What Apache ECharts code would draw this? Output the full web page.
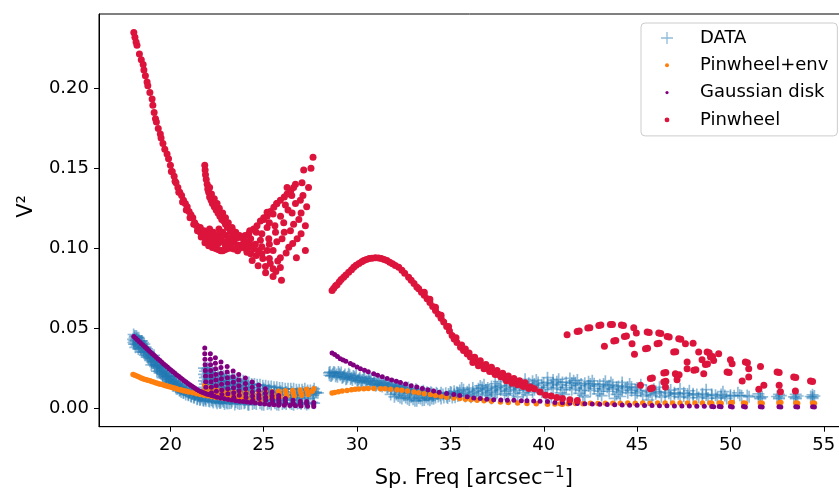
<!DOCTYPE html>
<html>
<head>
<meta charset="utf-8">
<script src="https://cdn.jsdelivr.net/npm/echarts@6/dist/echarts.min.js"></script>
<style>html,body{margin:0;padding:0;background:#fff}#c{width:839px;height:488px}</style>
</head>
<body>
<div id="c"></div>
<script>
// ---- tick labels ----
const xTicks = [20, 25, 30, 35, 40, 45, 50, 55];
const yTicks = [0, 0.05, 0.10, 0.15, 0.20];
const seriesNames = ['DATA', 'Pinwheel+env', 'Gaussian disk', 'Pinwheel'];

// ---- DATA (blue +) ----
const dataBand1 = [[18.0,0.043],[18.05,0.040],[18.1,0.045],[18.15,0.042],[18.2,0.039],[18.3,0.044],[18.35,0.041],[18.4,0.037],[18.5,0.039],[18.55,0.035],[18.6,0.040],[18.7,0.034],[18.75,0.037],[18.85,0.031],[18.9,0.034],[19.0,0.029],[19.05,0.032],[19.15,0.027],[19.2,0.030],[19.3,0.025],[19.35,0.028],[19.45,0.024],[19.5,0.026],[19.6,0.021],[19.7,0.024],[19.8,0.020],[19.85,0.022],[19.95,0.018],[20.05,0.020],[20.15,0.016],[20.25,0.018],[20.35,0.014],[20.45,0.016],[20.55,0.013],[20.65,0.014],[20.8,0.011],[20.9,0.013],[21.0,0.0095],[21.15,0.011],[21.3,0.008],[21.4,0.0095],[21.55,0.007],[21.7,0.008],[21.85,0.006],[22.0,0.0065],[22.2,0.005],[22.4,0.0055],[22.6,0.004],[22.8,0.0045],[23.0,0.0035],[23.3,0.004],[23.6,0.003],[24.0,0.0035],[24.4,0.0025],[24.8,0.003],[25.2,0.0025],[25.6,0.003],[26.0,0.0025],[26.4,0.003],[26.8,0.0028],[27.2,0.003]];
const dataBand1b = [[18.02,0.041],[18.08,0.044],[18.12,0.038],[18.18,0.045],[18.25,0.041],[18.28,0.037],[18.33,0.039],[18.42,0.040],[18.45,0.035],[18.48,0.042],[18.58,0.037],[18.63,0.033],[18.68,0.038],[18.78,0.032],[18.8,0.035],[18.95,0.031],[18.98,0.027],[19.1,0.029],[19.12,0.033],[19.25,0.027],[19.28,0.023],[19.4,0.026],[19.42,0.022],[19.55,0.023],[19.58,0.019],[19.65,0.025],[19.75,0.021],[19.78,0.018],[19.9,0.020],[19.92,0.016],[20.0,0.017],[20.1,0.019],[20.12,0.014],[20.2,0.017],[20.3,0.015],[20.32,0.012],[20.4,0.013],[20.5,0.015],[20.52,0.011],[20.6,0.012],[20.7,0.013],[20.72,0.0095],[20.85,0.012],[20.95,0.0085],[21.05,0.011],[21.1,0.0075],[21.2,0.0095],[21.25,0.0065],[21.35,0.0085],[21.45,0.006],[21.5,0.0085],[21.6,0.0055],[21.65,0.0075],[21.75,0.005],[21.9,0.0045],[22.1,0.004],[22.3,0.0035],[22.5,0.003],[22.7,0.0035],[22.9,0.0025],[23.15,0.003],[23.45,0.0022],[23.8,0.0028],[24.2,0.002],[24.6,0.0025],[25.0,0.002],[25.4,0.0022],[25.8,0.002],[26.2,0.0025],[26.6,0.002],[27.0,0.0025],[27.4,0.0028],[27.7,0.003]];
const dataBand1c = [[18.03,0.046],[18.07,0.042],[18.13,0.040],[18.17,0.043],[18.22,0.044],[18.27,0.040],[18.32,0.042],[18.38,0.038],[18.43,0.042],[18.47,0.038],[18.53,0.041],[18.57,0.036],[18.62,0.038],[18.67,0.035],[18.72,0.036],[18.77,0.033],[18.83,0.035],[18.88,0.032],[18.93,0.033],[18.97,0.030],[19.03,0.031],[19.08,0.028],[19.13,0.031],[19.18,0.026],[19.23,0.029],[19.28,0.026],[19.33,0.027],[19.38,0.023],[19.43,0.026],[19.48,0.022],[19.53,0.025],[19.57,0.021],[19.62,0.023],[19.68,0.020],[19.73,0.022],[19.77,0.019],[19.83,0.020],[19.88,0.017],[19.93,0.019],[19.98,0.016],[20.03,0.018],[20.08,0.015],[20.13,0.017],[20.18,0.014],[20.23,0.016],[20.28,0.013],[20.33,0.015],[20.38,0.012],[20.43,0.014],[20.48,0.011],[20.53,0.013],[20.58,0.010],[20.63,0.012],[20.68,0.0095],[20.75,0.0115],[20.82,0.0085],[20.88,0.0105],[20.97,0.008],[21.03,0.010],[21.12,0.007],[21.18,0.009],[21.28,0.0065],[21.33,0.0085],[21.43,0.0055],[21.48,0.0075],[21.58,0.005],[21.68,0.0065],[21.78,0.0045],[21.88,0.0055],[22.05,0.0045],[22.25,0.0042],[22.45,0.004],[22.65,0.0032],[22.85,0.0038],[23.05,0.0028],[23.25,0.0032],[23.5,0.0038],[23.7,0.0025],[23.95,0.003],[24.15,0.0022],[24.5,0.0032],[24.9,0.0022],[25.3,0.003],[25.7,0.0022],[26.1,0.0032],[26.5,0.0025],[26.9,0.0032],[27.3,0.0022],[27.6,0.0035]];
const dataFan1 = [[21.8,0.025],[21.8,0.021],[21.8,0.017],[21.8,0.013],[22.1,0.023],[22.1,0.019],[22.1,0.015],[22.1,0.011],[22.1,0.008],[22.4,0.022],[22.4,0.018],[22.4,0.014],[22.4,0.010],[22.7,0.021],[22.7,0.017],[22.7,0.013],[22.7,0.009],[22.7,0.006],[23.0,0.020],[23.0,0.016],[23.0,0.012],[23.0,0.008],[23.3,0.019],[23.3,0.015],[23.3,0.011],[23.3,0.007],[23.6,0.018],[23.6,0.014],[23.6,0.010],[23.6,0.006],[23.9,0.017],[23.9,0.013],[23.9,0.009],[24.2,0.016],[24.2,0.012],[24.2,0.008],[24.2,0.005],[24.5,0.015],[24.5,0.011],[24.5,0.007],[24.8,0.0145],[24.8,0.0105],[24.8,0.0065],[25.1,0.014],[25.1,0.010],[25.1,0.006],[25.4,0.0135],[25.4,0.0095],[25.4,0.0055],[25.7,0.013],[25.7,0.009],[25.7,0.005],[26.0,0.0125],[26.0,0.0085],[26.0,0.005],[26.3,0.012],[26.3,0.008],[26.6,0.012],[26.6,0.0085],[26.6,0.005],[26.9,0.0115],[26.9,0.008],[27.2,0.012],[27.2,0.009],[27.5,0.011],[27.5,0.0085],[27.8,0.010],[27.8,0.0095]];
const dataFan1b = [[21.95,0.024],[21.95,0.020],[21.95,0.016],[21.95,0.012],[21.95,0.009],[22.25,0.022],[22.25,0.018],[22.25,0.014],[22.25,0.010],[22.25,0.007],[22.55,0.021],[22.55,0.017],[22.55,0.013],[22.55,0.009],[22.55,0.006],[22.85,0.020],[22.85,0.016],[22.85,0.012],[22.85,0.008],[23.15,0.019],[23.15,0.015],[23.15,0.011],[23.15,0.007],[23.45,0.018],[23.45,0.014],[23.45,0.010],[23.45,0.006],[23.75,0.017],[23.75,0.013],[23.75,0.009],[23.75,0.0055],[24.05,0.016],[24.05,0.012],[24.05,0.008],[24.35,0.015],[24.35,0.011],[24.35,0.007],[24.65,0.0145],[24.65,0.0105],[24.65,0.0065],[24.95,0.014],[24.95,0.010],[24.95,0.006],[25.25,0.0135],[25.25,0.0095],[25.25,0.0055],[25.55,0.013],[25.55,0.009],[25.55,0.005],[25.85,0.0125],[25.85,0.0085],[25.85,0.0045],[26.15,0.012],[26.15,0.008],[26.45,0.012],[26.45,0.0085],[26.45,0.005],[26.75,0.0115],[26.75,0.0075],[27.05,0.0115],[27.05,0.008],[27.35,0.011],[27.35,0.0075],[27.65,0.0105],[27.65,0.008],[27.9,0.0095]];
const dataFan1c = [[21.85,0.023],[21.85,0.019],[21.85,0.015],[21.85,0.011],[22.0,0.025],[22.0,0.022],[22.0,0.018],[22.0,0.014],[22.0,0.010],[22.3,0.021],[22.3,0.016],[22.3,0.012],[22.3,0.009],[22.6,0.019],[22.6,0.015],[22.6,0.011],[22.6,0.0075],[22.9,0.018],[22.9,0.014],[22.9,0.010],[22.9,0.0065],[23.2,0.017],[23.2,0.013],[23.2,0.009],[23.2,0.006],[23.5,0.016],[23.5,0.012],[23.5,0.008],[23.8,0.015],[23.8,0.011],[23.8,0.007],[24.1,0.014],[24.1,0.010],[24.1,0.0065],[24.4,0.013],[24.4,0.009],[24.4,0.006],[24.7,0.0125],[24.7,0.0085],[25.0,0.012],[25.0,0.008],[25.3,0.0115],[25.3,0.0075],[25.6,0.011],[25.6,0.007],[25.9,0.0105],[25.9,0.0065],[26.2,0.010],[26.2,0.006],[26.5,0.010],[26.5,0.0065],[26.8,0.0095],[26.8,0.006],[27.1,0.010],[27.1,0.0065],[27.4,0.0095],[27.4,0.006],[27.7,0.009],[27.7,0.012]];
const dataBand2 = [[28.5,0.022],[28.7,0.0215],[28.9,0.021],[29.1,0.0205],[29.3,0.020],[29.5,0.0195],[29.7,0.019],[29.9,0.0185],[30.1,0.018],[30.3,0.0175],[30.5,0.017],[30.7,0.0165],[30.9,0.016],[31.1,0.0155],[31.3,0.015],[31.5,0.0145],[31.7,0.014],[31.9,0.0135],[32.1,0.013],[32.3,0.0125],[32.5,0.012],[32.7,0.0115],[32.9,0.011],[33.1,0.0105],[33.3,0.010],[33.5,0.0095],[33.7,0.009],[33.9,0.0088],[34.1,0.0085],[28.6,0.020],[29.0,0.0225],[29.4,0.018],[29.8,0.020],[30.2,0.016],[30.6,0.0185],[31.0,0.014],[31.4,0.016],[31.8,0.012],[32.2,0.014],[31.8,0.0085],[32.0,0.007],[32.2,0.0075],[32.4,0.006],[32.6,0.0065],[32.8,0.005],[33.0,0.0055],[33.2,0.0045],[33.4,0.006],[33.6,0.005],[33.8,0.0055],[34.0,0.006],[34.2,0.0065],[34.5,0.006],[34.8,0.007],[35.1,0.0065],[35.4,0.0075]];
const dataBand2b = [[28.55,0.0225],[28.65,0.0205],[28.8,0.022],[28.95,0.0195],[29.05,0.0215],[29.2,0.019],[29.35,0.021],[29.45,0.0185],[29.6,0.0205],[29.75,0.0175],[29.85,0.0195],[30.0,0.017],[30.15,0.019],[30.25,0.0165],[30.4,0.0185],[30.55,0.0155],[30.65,0.0175],[30.8,0.015],[30.95,0.017],[31.05,0.0145],[31.2,0.0165],[31.35,0.0135],[31.45,0.0155],[31.6,0.013],[31.75,0.015],[31.85,0.0125],[32.0,0.0115],[32.15,0.0135],[32.25,0.011],[32.4,0.013],[32.55,0.0105],[32.65,0.0125],[32.8,0.0095],[32.95,0.0115],[33.05,0.009],[33.2,0.0108],[33.35,0.0085],[33.45,0.0102],[33.6,0.0082],[33.75,0.0098],[33.85,0.008],[34.0,0.0092],[34.3,0.0088],[34.6,0.0085],[34.9,0.0088],[32.1,0.0085],[32.3,0.0065],[32.5,0.0078],[32.7,0.0058],[32.9,0.0068],[33.1,0.0045],[33.3,0.0062],[33.5,0.0048],[33.7,0.0065],[33.9,0.0048],[34.1,0.0058],[34.35,0.0072],[34.65,0.0065],[34.95,0.0075],[35.25,0.0068]];
const dataBand2c = [[28.52,0.0205],[28.75,0.0225],[28.85,0.0198],[29.15,0.0222],[29.25,0.0192],[29.55,0.0215],[29.65,0.0182],[29.95,0.0205],[30.05,0.0172],[30.35,0.0195],[30.45,0.0162],[30.75,0.0182],[30.85,0.015],[31.15,0.0172],[31.25,0.014],[31.55,0.0158],[31.65,0.0128],[31.95,0.0148],[32.05,0.012],[32.35,0.0138],[32.45,0.0112],[32.75,0.0128],[32.85,0.0102],[33.15,0.0118],[33.25,0.0095],[33.55,0.0108],[33.65,0.009],[33.95,0.0098],[34.05,0.0075],[34.25,0.0095],[34.45,0.0078],[34.75,0.0092],[34.85,0.0062],[35.05,0.0095],[35.35,0.0098]];
const dataBand3 = [[34.5,0.0095],[35.0,0.010],[35.5,0.011],[36.0,0.0115],[36.5,0.012],[37.0,0.0125],[37.5,0.013],[38.0,0.0135],[38.5,0.014],[39.0,0.0145],[39.5,0.015],[40.0,0.0155],[40.5,0.0155],[41.0,0.016],[41.5,0.0155],[42.0,0.015],[42.5,0.015],[43.0,0.0145],[43.5,0.014],[44.0,0.0135],[44.5,0.013],[45.0,0.0125],[35.5,0.008],[36.0,0.0085],[36.5,0.009],[37.0,0.0095],[37.5,0.010],[38.0,0.0105],[38.5,0.011],[39.0,0.011],[39.5,0.0115],[40.0,0.0115],[40.5,0.012],[41.0,0.0115],[41.5,0.0115],[42.0,0.011],[42.5,0.011],[43.0,0.0105],[43.5,0.0105],[44.0,0.010],[44.5,0.0095],[45.0,0.0095],[38.2,0.017],[40.2,0.019],[40.8,0.018],[41.4,0.0185],[42.6,0.017],[44.2,0.016],[39.6,0.0175],[36.8,0.0145],[37.2,0.006],[38.6,0.007],[40.4,0.0065],[42.2,0.007],[43.8,0.006],[45.6,0.005]];
const dataBand3b = [[35.2,0.0105],[35.7,0.0115],[36.2,0.0125],[36.7,0.0128],[37.2,0.0135],[37.7,0.014],[38.2,0.0145],[38.7,0.015],[39.2,0.0155],[39.7,0.016],[40.2,0.016],[40.7,0.0165],[41.2,0.016],[41.7,0.0158],[42.2,0.0155],[42.7,0.0152],[43.2,0.015],[43.7,0.0145],[44.2,0.0138],[44.7,0.0132],[35.2,0.0085],[35.7,0.0092],[36.2,0.0098],[36.7,0.0102],[37.2,0.0108],[37.7,0.0112],[38.2,0.0118],[38.7,0.0122],[39.2,0.0125],[39.7,0.0128],[40.2,0.013],[40.7,0.013],[41.2,0.0128],[41.7,0.0125],[42.2,0.0125],[42.7,0.0122],[43.2,0.012],[43.7,0.0118],[44.2,0.0112],[44.7,0.0108],[35.8,0.0072],[36.3,0.0078],[36.9,0.0082],[37.4,0.0085],[37.9,0.0088],[38.4,0.0092],[38.9,0.0095],[39.4,0.0098],[39.9,0.0098],[40.9,0.0095],[41.9,0.0092],[42.9,0.0088],[43.9,0.0085],[44.9,0.008],[37.6,0.0165],[39.0,0.018],[41.8,0.0175],[43.3,0.0168],[45.2,0.0145]];
const dataBand3c = [[35.4,0.0092],[35.9,0.0102],[36.4,0.0108],[36.9,0.0115],[37.4,0.012],[37.9,0.0125],[38.4,0.013],[38.9,0.0135],[39.4,0.014],[39.9,0.0142],[40.4,0.0145],[40.9,0.0145],[41.4,0.0142],[41.9,0.014],[42.4,0.0138],[42.9,0.0135],[43.4,0.013],[43.9,0.0128],[44.4,0.0122],[44.9,0.0115],[35.6,0.0125],[36.6,0.0138],[37.4,0.0152],[38.4,0.016],[39.4,0.0168],[40.5,0.0175],[41.6,0.017],[42.4,0.0165],[43.6,0.016],[44.6,0.015],[36.1,0.0068],[37.1,0.0075],[38.1,0.008],[39.1,0.0082],[40.1,0.0085],[41.1,0.0085],[42.1,0.008],[43.1,0.0078],[44.1,0.0072]];
const dataBand4 = [[45.5,0.011],[46.0,0.0105],[46.5,0.010],[47.0,0.0095],[47.5,0.0095],[48.0,0.009],[48.5,0.009],[49.0,0.0085],[49.5,0.0085],[50.0,0.008],[50.5,0.008],[45.5,0.0085],[46.0,0.009],[46.5,0.008],[47.0,0.0085],[47.5,0.0075],[48.0,0.008],[48.5,0.0072],[49.0,0.0075],[49.5,0.007],[50.0,0.0072],[46.2,0.013],[47.3,0.012],[48.7,0.0115],[50.9,0.0078],[51.0,0.007],[51.5,0.0075],[51.6,0.0065],[51.7,0.007],[52.5,0.0072],[52.6,0.0065],[52.7,0.0078],[53.4,0.007],[53.5,0.0065],[53.6,0.0075],[54.3,0.0072],[54.4,0.0068],[54.5,0.0075]];
const dataBand4b = [[45.2,0.0105],[45.7,0.0098],[46.2,0.0098],[46.7,0.0092],[47.2,0.009],[47.7,0.0088],[48.2,0.0085],[48.7,0.0082],[49.2,0.008],[49.7,0.0078],[50.2,0.0077],[50.6,0.0076],[45.3,0.0075],[45.8,0.0078],[46.3,0.007],[46.8,0.0072],[47.3,0.0068],[47.8,0.0065],[48.3,0.0065],[48.8,0.0062],[49.3,0.0062],[49.8,0.006],[45.9,0.0118],[46.8,0.0112],[47.8,0.0108],[49.6,0.0102],[50.4,0.0095],[51.5,0.0088],[52.6,0.0085],[53.5,0.0085],[54.4,0.0083],[51.6,0.0058],[52.6,0.0058],[53.5,0.0058],[54.4,0.006]];

// ---- Pinwheel+env (orange) ----
const envCurve1 = [[18.0,0.021],[18.1,0.0205],[18.2,0.020],[18.3,0.0195],[18.4,0.019],[18.5,0.0185],[18.6,0.018],[18.7,0.0177],[18.8,0.0173],[18.9,0.017],[19.0,0.0166],[19.1,0.0162],[19.2,0.0158],[19.3,0.0155],[19.4,0.0151],[19.5,0.0148],[19.6,0.0145],[19.7,0.0141],[19.8,0.0138],[19.9,0.0135],[20.0,0.0131],[20.1,0.0128],[20.2,0.0125],[20.3,0.0122],[20.4,0.0118],[20.5,0.0115],[20.6,0.0112],[20.7,0.0108],[20.8,0.0106],[20.9,0.0103],[21.0,0.010],[21.2,0.0095],[21.4,0.009],[21.6,0.0085],[21.8,0.008],[22.0,0.0076],[22.2,0.0072],[22.4,0.0068],[22.6,0.0065],[22.8,0.0062],[23.0,0.0059],[23.2,0.0056],[23.4,0.0054],[23.7,0.0051],[24.0,0.0048],[24.4,0.0046],[24.8,0.0044]];
const envFan1 = [[21.84,0.0142],[21.86,0.0118],[21.9,0.0095],[22.14,0.0128],[22.17,0.0105],[22.2,0.0083],[22.45,0.0118],[22.48,0.0096],[22.52,0.0075],[22.75,0.011],[22.8,0.009],[22.84,0.007],[23.06,0.0105],[23.1,0.0085],[23.14,0.0066],[23.38,0.0102],[23.42,0.0082],[23.46,0.0063],[23.7,0.010],[23.74,0.008],[23.78,0.0062],[24.03,0.0098],[24.07,0.0078],[24.1,0.006],[24.38,0.0098],[24.42,0.0078],[24.45,0.006],[24.73,0.0099],[24.77,0.008],[24.8,0.0062],[25.09,0.010],[25.13,0.0082],[25.16,0.0065],[25.45,0.0102],[25.49,0.0085],[25.52,0.0068],[25.8,0.0105],[25.84,0.0088],[25.88,0.007],[26.16,0.0108],[26.2,0.009],[26.24,0.0073],[26.55,0.011],[26.59,0.0093],[26.63,0.0076],[26.95,0.0113],[26.99,0.0096],[27.03,0.008],[27.3,0.0117],[27.34,0.010],[27.38,0.0084],[27.68,0.0121],[27.6,0.0105]];
const envCurve2 = [[28.66,0.0094],[28.8,0.0097],[29.0,0.0102],[29.2,0.0106],[29.46,0.011],[29.7,0.0114],[29.9,0.0117],[30.1,0.0119],[30.36,0.0121],[30.6,0.0122],[30.9,0.0122],[31.25,0.0121],[31.5,0.012],[31.8,0.0118],[32.14,0.0115],[32.4,0.0111],[32.7,0.0106],[33.04,0.010],[33.3,0.0095],[33.6,0.009],[33.93,0.0084],[34.2,0.0078],[34.5,0.0073],[34.8,0.0068],[35.18,0.0063],[35.5,0.0059],[35.8,0.0055],[36.1,0.0051],[36.43,0.0048],[36.8,0.0045],[37.2,0.0042],[37.68,0.0038],[38.1,0.0035],[38.6,0.0031],[39.1,0.0028],[39.6,0.0026],[40.2,0.0024],[40.6,0.0025]];
const envTail = [[40.9,0.0026],[41.0,0.0024],[41.3,0.0027],[41.7,0.0028],[42.1,0.0027],[42.5,0.0029],[42.9,0.0028],[43.3,0.003],[43.7,0.0029],[44.1,0.003],[44.5,0.0031],[44.9,0.003],[45.3,0.0031],[45.7,0.003],[46.1,0.0031],[46.5,0.0032],[46.9,0.0031],[47.3,0.0032],[47.7,0.0031],[48.1,0.0032],[48.5,0.0031],[48.9,0.0032],[49.0,0.0029],[49.4,0.0032],[49.5,0.0029],[50.0,0.0031],[50.1,0.0034],[50.7,0.0032],[50.8,0.0029],[51.6,0.0032],[51.7,0.0029],[52.6,0.0031],[52.7,0.0034],[53.5,0.0032],[53.6,0.0029],[54.4,0.0032],[54.5,0.0029]];

// ---- Gaussian disk (purple) ----
const gaussCurve1 = [[18.04,0.0448],[18.14,0.0437],[18.24,0.0426],[18.34,0.0415],[18.44,0.0404],[18.54,0.0393],[18.64,0.0382],[18.74,0.0371],[18.84,0.036],[18.94,0.0349],[19.04,0.0338],[19.14,0.0328],[19.24,0.0317],[19.34,0.0307],[19.44,0.0297],[19.54,0.0287],[19.64,0.0276],[19.74,0.0266],[19.84,0.0256],[19.94,0.0246],[20.04,0.0236],[20.14,0.0227],[20.24,0.0217],[20.34,0.0207],[20.44,0.0198],[20.54,0.0189],[20.64,0.018],[20.74,0.0171],[20.84,0.0162],[20.94,0.0154],[21.04,0.0146],[21.14,0.0138],[21.24,0.013],[21.34,0.0122],[21.44,0.0115],[21.54,0.0108],[21.64,0.0102],[21.74,0.0097],[21.84,0.0092],[21.94,0.0088],[22.04,0.0084],[22.2,0.0078],[22.35,0.0073],[22.5,0.0068],[22.7,0.0063],[22.9,0.0058],[23.1,0.0054],[23.3,0.005],[23.5,0.0046],[23.7,0.0043],[23.9,0.004],[24.1,0.0037],[24.3,0.0034],[24.55,0.0031],[24.8,0.0028],[25.05,0.0025],[25.3,0.0022],[25.55,0.002],[25.8,0.0018],[26.1,0.0017],[26.4,0.0015],[26.7,0.0014],[27.0,0.0013],[27.35,0.0011],[27.68,0.0009]];
const gaussFan1 = [[21.84,0.0375],[21.84,0.034],[21.85,0.0305],[21.86,0.027],[21.87,0.0235],[21.88,0.020],[21.89,0.0165],[21.9,0.013],[22.14,0.034],[22.14,0.0305],[22.15,0.027],[22.16,0.0235],[22.17,0.020],[22.18,0.0165],[22.19,0.013],[22.2,0.0095],[22.41,0.0315],[22.41,0.028],[22.42,0.0245],[22.43,0.021],[22.44,0.0175],[22.45,0.014],[22.46,0.0105],[22.71,0.0288],[22.71,0.0253],[22.72,0.0218],[22.73,0.0183],[22.74,0.0148],[22.75,0.0113],[22.76,0.0085],[23.04,0.026],[23.04,0.0225],[23.05,0.019],[23.06,0.0155],[23.07,0.012],[23.08,0.009],[23.36,0.0231],[23.36,0.0196],[23.37,0.0161],[23.38,0.0126],[23.39,0.0095],[23.4,0.0068],[23.66,0.021],[23.66,0.0175],[23.67,0.014],[23.68,0.0108],[23.69,0.008],[24.02,0.0188],[24.02,0.0153],[24.03,0.012],[24.04,0.009],[24.05,0.0065],[24.38,0.0163],[24.38,0.013],[24.39,0.010],[24.4,0.0075],[24.41,0.005],[24.73,0.0142],[24.73,0.011],[24.74,0.0082],[24.75,0.006],[25.09,0.0121],[25.09,0.0092],[25.1,0.0068],[25.11,0.0048],[25.45,0.010],[25.45,0.0075],[25.46,0.0055],[25.47,0.0038],[25.8,0.0079],[25.8,0.006],[25.81,0.0043],[25.82,0.003],[26.16,0.0059],[26.16,0.0045],[26.17,0.0032],[26.57,0.0048],[26.57,0.0035],[26.58,0.0025],[26.96,0.0042],[26.96,0.003],[26.97,0.002],[27.3,0.004],[27.3,0.0028],[27.68,0.0035],[27.68,0.0022]];
const gaussCurve2 = [[28.66,0.0344],[28.8,0.0335],[28.95,0.0322],[29.1,0.0309],[29.25,0.03],[29.4,0.0292],[29.64,0.0278],[29.8,0.0269],[30.0,0.0257],[30.18,0.0246],[30.4,0.0236],[30.6,0.0227],[30.89,0.0215],[31.1,0.0205],[31.35,0.0195],[31.61,0.0184],[31.85,0.0175],[32.1,0.0167],[32.32,0.0159],[32.6,0.015],[32.9,0.014],[33.2,0.0131],[33.5,0.0122],[33.8,0.0114],[34.1,0.0106],[34.4,0.0099],[34.8,0.0091],[35.18,0.0084],[35.5,0.0078],[35.9,0.007],[36.25,0.0063],[36.6,0.0059],[36.95,0.0055],[37.32,0.0052],[37.7,0.005],[38.05,0.0049],[38.4,0.0048],[38.8,0.0046],[39.1,0.0045],[39.46,0.0044],[39.8,0.0042],[40.2,0.004]];
const gaussTail = [[40.6,0.0035],[41.0,0.0033],[41.4,0.003],[41.8,0.0028],[42.2,0.0026],[42.6,0.0025],[43.0,0.0023],[43.4,0.0022],[43.8,0.002],[44.2,0.0019],[44.6,0.0018],[45.0,0.0017],[45.4,0.0016],[45.8,0.0015],[46.2,0.0014],[46.6,0.0014],[47.0,0.0013],[47.4,0.0012],[47.8,0.0012],[48.2,0.0011],[48.6,0.0011],[49.0,0.001],[49.1,0.0008],[49.4,0.001],[49.5,0.0008],[50.0,0.0009],[50.1,0.0007],[50.7,0.0009],[50.8,0.0007],[51.6,0.0008],[51.7,0.0006],[52.6,0.0008],[52.7,0.0006],[53.5,0.0008],[53.6,0.0006],[54.4,0.0008],[54.5,0.0006]];

// ---- Pinwheel (red) ----
const pinDashes = [[18.04,0.235],[18.1,0.232],[18.16,0.229],[18.21,0.227],[18.34,0.2215],[18.44,0.218],[18.54,0.215],[18.58,0.2115],[18.66,0.208],[18.75,0.204],[18.79,0.2017],[18.9,0.1975],[19.02,0.1934],[19.06,0.1895],[19.13,0.185],[19.2,0.181],[19.25,0.179],[19.35,0.175],[19.46,0.1715],[19.5,0.169],[19.6,0.1655],[19.7,0.162],[19.82,0.159]];
const pinCurve1 = [[19.9,0.156],[20.0,0.152],[20.1,0.148],[20.2,0.145],[20.3,0.141],[20.4,0.138],[20.5,0.135],[20.6,0.133],[20.7,0.130],[20.8,0.128],[20.9,0.126],[21.0,0.123],[21.1,0.121],[21.2,0.119],[21.3,0.116],[21.4,0.114],[21.5,0.112],[21.6,0.110],[21.7,0.108],[21.8,0.107],[21.9,0.105],[22.0,0.104],[22.1,0.103],[22.2,0.102],[22.3,0.101],[22.4,0.100],[22.5,0.0995],[22.6,0.099],[22.7,0.0985],[22.8,0.0985],[22.9,0.099],[23.0,0.0995],[23.2,0.100],[23.4,0.0995],[23.6,0.0985],[20.05,0.148],[20.25,0.142],[20.45,0.135],[20.65,0.129],[20.85,0.124],[21.05,0.119],[21.25,0.115],[21.45,0.111],[21.65,0.107],[21.85,0.1035],[22.05,0.1015],[22.25,0.1005]];
const pinBlob = [[21.6,0.113],[21.8,0.111],[22.0,0.109],[22.2,0.107],[22.4,0.105],[22.1,0.112],[22.3,0.110],[22.5,0.108],[22.7,0.106],[22.9,0.104],[23.1,0.102],[22.6,0.112],[22.8,0.110],[23.0,0.108],[23.2,0.106],[23.4,0.104],[23.6,0.102],[23.3,0.112],[23.5,0.110],[23.7,0.108],[23.9,0.106],[24.1,0.104],[23.8,0.102],[24.0,0.100],[24.3,0.102],[23.1,0.1045],[23.3,0.107],[22.45,0.1025],[22.95,0.1015],[23.7,0.100],[23.9,0.1025],[24.2,0.1005],[22.2,0.1055],[22.6,0.1035],[23.3,0.1035],[21.9,0.1085],[22.7,0.1095],[23.6,0.1065],[24.0,0.108],[24.25,0.111]];
const pinBranch = [[21.84,0.152],[21.86,0.149],[21.88,0.146],[21.92,0.143],[21.97,0.140],[22.0,0.137],[22.05,0.135],[22.1,0.132],[22.18,0.130],[22.25,0.128],[22.35,0.126],[22.45,0.124],[22.55,0.122],[22.65,0.120],[22.75,0.118],[22.86,0.117],[22.95,0.115],[23.05,0.113],[23.2,0.111],[23.35,0.109],[23.5,0.108],[22.1,0.138],[22.2,0.134],[22.35,0.131],[22.5,0.128],[22.62,0.125],[22.8,0.122],[22.95,0.119],[23.1,0.116],[23.3,0.113]];
const pinFan = [[24.46,0.112],[24.82,0.117],[25.18,0.120],[25.54,0.1256],[25.89,0.130],[26.25,0.134],[26.6,0.138],[27.05,0.141],[27.14,0.149],[27.53,0.150],[27.64,0.157],[24.2,0.109],[24.64,0.114],[25.0,0.118],[25.36,0.123],[25.7,0.128],[26.1,0.132],[26.45,0.136],[26.7,0.140],[26.25,0.138],[26.5,0.133],[26.96,0.130],[26.16,0.127],[26.52,0.122],[25.7,0.128],[25.5,0.1215],[27.23,0.114],[26.88,0.118],[26.07,0.116],[25.18,0.1225],[25.0,0.119],[26.43,0.111],[25.63,0.110],[25.18,0.113],[26.79,0.106],[26.34,0.1006],[25.98,0.106],[25.27,0.106],[24.82,0.105],[27.23,0.0986],[26.75,0.094],[25.89,0.094],[25.5,0.0986],[25.18,0.0986],[24.73,0.0986],[24.46,0.0996],[25.89,0.088],[25.5,0.0871],[25.09,0.0886],[24.7,0.089],[24.38,0.0923],[25.95,0.080],[25.5,0.0823],[25.1,0.0846],[24.6,0.0955],[24.1,0.0975],[24.05,0.1035],[24.3,0.106],[24.6,0.110],[24.9,0.109],[25.3,0.116],[25.6,0.114],[25.9,0.120],[26.3,0.124],[26.7,0.128],[27.1,0.133],[27.4,0.138],[24.9,0.101],[25.3,0.1025],[25.7,0.104],[26.1,0.110],[26.6,0.115],[27.0,0.122],[27.3,0.126],[24.55,0.1025],[24.95,0.0935],[25.35,0.0905],[25.75,0.092],[26.2,0.097],[26.55,0.103],[27.0,0.109],[24.3,0.0965],[24.9,0.0965],[25.65,0.0855],[25.3,0.0935]];
const pinHump = [[28.66,0.0736],[28.75,0.075],[28.85,0.0765],[28.93,0.0771],[29.05,0.079],[29.15,0.0805],[29.28,0.0819],[29.4,0.0833],[29.55,0.085],[29.7,0.0866],[29.82,0.0881],[29.95,0.0893],[30.1,0.0905],[30.25,0.0916],[30.36,0.0923],[30.5,0.093],[30.65,0.0935],[30.8,0.0938],[30.98,0.094],[31.15,0.0939],[31.3,0.0935],[31.45,0.093],[31.6,0.0923],[31.75,0.0913],[31.9,0.0903],[32.05,0.0892],[32.23,0.0881],[32.4,0.0862],[32.55,0.0843],[32.76,0.0819],[32.9,0.08],[33.05,0.078],[33.2,0.0758],[33.3,0.0746],[33.45,0.0725],[33.6,0.0705],[33.75,0.0684],[33.9,0.066],[34.05,0.0636],[34.2,0.0611],[34.35,0.0587],[34.5,0.0562],[34.64,0.0538],[34.8,0.051],[34.95,0.0482],[35.09,0.0454],[35.2,0.0432],[35.35,0.041],[35.54,0.0381],[35.7,0.036],[35.9,0.0338],[36.07,0.0319],[36.25,0.0303],[36.45,0.0288],[36.6,0.0278],[36.8,0.0262],[37.0,0.0247],[37.14,0.0236],[37.35,0.0222],[37.5,0.0213],[37.68,0.0204],[37.9,0.019],[38.05,0.018],[38.2,0.0173],[38.45,0.0163],[38.6,0.0157],[38.75,0.0153],[39.0,0.0143],[39.29,0.0131],[39.5,0.012],[39.8,0.010],[40.1,0.008],[40.4,0.0075],[40.7,0.0065],[41.0,0.006],[41.4,0.0052],[41.8,0.0047],[33.6,0.0725],[33.9,0.068],[34.2,0.063],[34.5,0.058],[34.9,0.051],[35.3,0.044],[35.6,0.0395],[35.8,0.037],[36.0,0.0345],[36.3,0.0318],[36.6,0.0295],[36.9,0.0273],[37.2,0.0255],[37.5,0.0235],[37.8,0.0218],[38.1,0.020],[38.4,0.0185],[38.7,0.017],[39.0,0.0158],[36.2,0.0285],[36.5,0.0265],[36.8,0.0245],[37.1,0.0228],[37.4,0.021],[37.7,0.0195],[38.0,0.017],[38.3,0.0155],[38.6,0.0145],[38.9,0.0135],[39.2,0.0122]];
const pinRight = [[41.25,0.0459],[41.79,0.0479],[41.9,0.0482],[42.36,0.050],[42.47,0.0503],[42.95,0.0517],[43.06,0.0519],[43.57,0.0523],[43.68,0.0523],[44.16,0.0519],[44.27,0.0516],[44.82,0.0502],[44.96,0.0469],[45.54,0.0475],[45.65,0.0472],[46.16,0.0469],[46.27,0.0466],[46.61,0.0448],[46.72,0.0445],[47.23,0.0434],[47.34,0.0431],[47.59,0.0402],[48.0,0.0406],[48.3,0.035],[48.75,0.035],[48.86,0.0346],[49.37,0.034],[50.0,0.0302],[50.09,0.0277],[50.8,0.0288],[50.91,0.0284],[50.98,0.0246],[51.61,0.026],[52.5,0.0225],[52.61,0.0222],[53.39,0.0194],[53.5,0.0191],[54.29,0.0169],[54.4,0.0166],[43.25,0.0386],[43.75,0.0419],[43.86,0.0422],[44.32,0.0448],[44.43,0.0451],[44.73,0.0402],[45.45,0.0371],[45.56,0.0374],[44.86,0.0336],[46.07,0.0402],[46.18,0.0405],[46.96,0.035],[47.07,0.0352],[49.1,0.0298],[49.82,0.0225],[49.93,0.0222],[50.63,0.0169],[50.98,0.0194],[51.52,0.0117],[51.79,0.0142],[52.61,0.0142],[52.68,0.0102],[53.48,0.0106],[48.04,0.0236],[48.15,0.0239],[48.57,0.0215],[47.68,0.0288],[48.66,0.0273],[48.77,0.0276],[47.14,0.0204],[47.25,0.0208],[46.43,0.0219],[46.54,0.0223],[45.71,0.0184],[45.82,0.0188],[45.18,0.0142],[45.71,0.0121],[45.82,0.0125],[46.43,0.0163],[46.54,0.0167],[47.05,0.0215],[46.52,0.0131],[47.14,0.0177],[47.68,0.0246],[48.48,0.0302],[48.93,0.0319],[49.04,0.0322]];

// ---- assembled per legend entry ----
const dataPoints = [].concat(dataBand1, dataBand1b, dataBand1c, dataFan1, dataFan1b, dataFan1c, dataBand2, dataBand2b, dataBand2c, dataBand3, dataBand3b, dataBand3c, dataBand4, dataBand4b);
const envPoints = [].concat(envCurve1, envFan1, envCurve2, envTail);
const gaussPoints = [].concat(gaussCurve1, gaussFan1, gaussCurve2, gaussTail);
const pinPoints = [].concat(pinDashes, pinCurve1, pinBlob, pinBranch, pinFan, pinHump, pinRight);

const plusSym = 'path://M4.3,0H5.7V4.3H10V5.7H5.7V10H4.3V5.7H0V4.3H4.3Z';
const plusIcon = 'path://M0,0M20,20M9.35,4H10.65V9.35H16V10.65H10.65V16H9.35V10.65H4V9.35H9.35Z';
function dotIcon(r) { return 'path://M0,0M20,20M' + (10 + r) + ',10A' + r + ',' + r + ',0,1,1,' + (10 - r) + ',10A' + r + ',' + r + ',0,1,1,' + (10 + r) + ',10Z'; }

const FONT = 'DejaVu Sans';
const chart = echarts.init(document.getElementById('c'), null, { renderer: 'canvas' });
chart.setOption({
  animation: false,
  backgroundColor: '#fff',
  grid: { left: 99, top: 14, width: 749.5, height: 412.7, outerBoundsMode: 'none', containLabel: false, show: true, borderColor: '#000', borderWidth: 1, backgroundColor: 'transparent' },
  xAxis: {
    type: 'value', min: 16.175, max: 56.325,
    name: 'Sp. Freq [arcsec{sup|−1}]', nameLocation: 'middle', nameGap: 39,
    nameTextStyle: { fontFamily: FONT, fontSize: 21, color: '#000', lineHeight: 26, rich: { sup: { fontFamily: FONT, fontSize: 15, color: '#000', verticalAlign: 'top', lineHeight: 15 } } },
    axisLine: { show: true, onZero: false, lineStyle: { color: '#000', width: 1 } },
    axisTick: { show: true, length: 5, lineStyle: { color: '#000', width: 1 }, customValues: xTicks },
    axisLabel: { fontFamily: FONT, fontSize: 18, color: '#000', margin: 10, customValues: xTicks, formatter: v => String(v) },
    splitLine: { show: false }
  },
  yAxis: {
    type: 'value', min: -0.0117, max: 0.2466,
    name: 'V²', nameLocation: 'middle', nameGap: 62,
    nameTextStyle: { fontFamily: FONT, fontSize: 21, color: '#000', padding: [0, 0, 0, 28] },
    axisLine: { show: true, onZero: false, lineStyle: { color: '#000', width: 1 } },
    axisTick: { show: true, length: 5, lineStyle: { color: '#000', width: 1 }, customValues: yTicks },
    axisLabel: { fontFamily: FONT, fontSize: 18, color: '#000', margin: 10, customValues: yTicks, formatter: v => v.toFixed(2) },
    splitLine: { show: false }
  },
  legend: {
    orient: 'vertical', left: 641, top: 23,
    padding: [5, 9, 6, 16], itemGap: 7.3, itemWidth: 20, itemHeight: 20,
    backgroundColor: 'rgba(255,255,255,0.8)', borderColor: '#cccccc', borderWidth: 1, borderRadius: 4,
    textStyle: { fontFamily: FONT, fontSize: 18, color: '#000', padding: [0, 0, 0, 18] },
    data: [
      { name: seriesNames[0], icon: plusIcon },
      { name: seriesNames[1], icon: dotIcon(2) },
      { name: seriesNames[2], icon: dotIcon(1.6) },
      { name: seriesNames[3], icon: dotIcon(2.4) }
    ]
  },
  series: [
    { name: seriesNames[0], type: 'scatter', data: dataPoints, symbol: plusSym, symbolSize: 12, itemStyle: { color: '#1f77b4', opacity: 0.5 }, silent: true },
    { name: seriesNames[1], type: 'scatter', data: envPoints, symbolSize: 5.5, itemStyle: { color: '#ff7f0e', opacity: 1 }, silent: true },
    { name: seriesNames[2], type: 'scatter', data: gaussPoints, symbolSize: 5, itemStyle: { color: '#800080', opacity: 1 }, silent: true },
    { name: seriesNames[3], type: 'scatter', data: pinPoints, symbolSize: 7, itemStyle: { color: '#dc143c', opacity: 1 }, silent: true }
  ]
});
</script>
</body>
</html>
